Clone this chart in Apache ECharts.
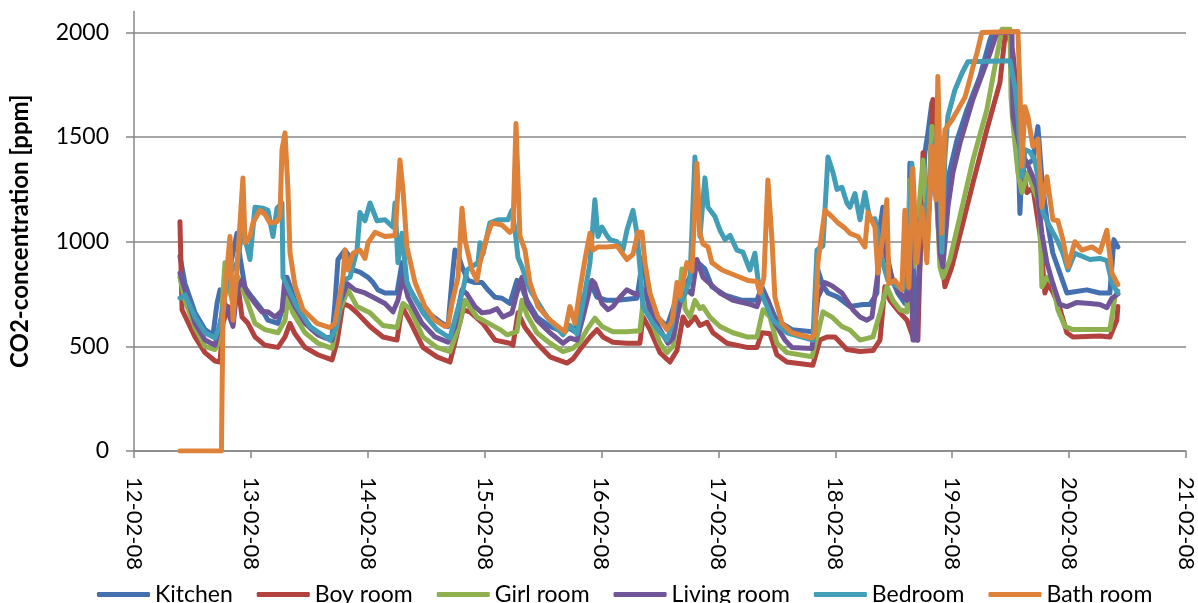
<!DOCTYPE html>
<html>
<head>
<meta charset="utf-8">
<title>CO2-concentration</title>
<script src="https://cdn.jsdelivr.net/npm/echarts@6/dist/echarts.min.js"></script>
<style>
  html, body { margin: 0; padding: 0; background: #ffffff; }
  #chart { width: 1198px; height: 603px; }
</style>
</head>
<body>
<div id="chart"></div>
<script>
// Measured CO2 concentration per room, [day of February 2008, ppm]
const kitchen = [
  [12.393,930],[12.436,800],[12.522,660],[12.607,580],[12.676,555],[12.710,705],[12.736,770],[12.761,740],[12.804,830],[12.881,1040],[12.907,925],[12.950,780],
  [13.009,735],[13.095,675],[13.146,625],[13.232,610],[13.275,690],[13.309,830],[13.352,760],[13.403,675],[13.523,580],[13.634,540],[13.694,545],[13.719,705],[13.745,915],[13.805,960],[13.848,925],[13.873,865],[13.933,855],
  [14.002,830],[14.045,805],[14.087,770],[14.147,755],[14.250,755],[14.293,900],[14.318,830],[14.361,770],[14.429,705],[14.515,660],[14.635,610],[14.686,595],[14.720,815],[14.746,960],[14.772,940],[14.806,880],[14.857,815],[14.917,805],[14.977,805],
  [15.028,770],[15.088,735],[15.148,730],[15.216,705],[15.276,815],[15.319,780],[15.362,720],[15.447,640],[15.559,595],[15.670,570],[15.713,590],[15.772,570],[15.815,705],[15.875,770],[15.901,805],[15.961,735],
  [16.046,720],[16.132,720],[16.217,725],[16.303,730],[16.354,925],[16.388,780],[16.440,660],[16.560,595],[16.611,680],[16.671,770],[16.730,800],[16.782,865],[16.824,900],[16.884,870],[16.944,785],
  [17.056,745],[17.201,720],[17.329,720],[17.372,785],[17.423,720],[17.483,640],[17.543,610],[17.629,580],[17.800,570],[17.826,570],[17.851,865],[17.894,790],[17.937,755],
  [18.022,735],[18.125,690],[18.236,700],[18.296,700],[18.356,755],[18.382,1070],[18.407,1165],[18.441,945],[18.484,820],[18.535,755],[18.595,705],[18.621,800],[18.638,1375],[18.664,900],[18.698,625],[18.724,900],[18.766,1425],[18.792,1520],[18.826,1665],[18.852,1400],[18.877,1100],[18.903,900],[18.937,1150],[18.963,1300],
  [19.040,1485],[19.126,1630],[19.237,1790],[19.323,1965],[19.348,2000],[19.494,2000],[19.520,1750],[19.562,1500],[19.579,1135],[19.596,1355],[19.690,1390],[19.733,1550],[19.767,1300],[19.810,1105],[19.861,945],[19.921,850],[19.981,755],
  [20.032,760],[20.152,770],[20.263,755],[20.349,755],[20.383,1010],[20.417,975]
];
const boyRoom = [
  [12.393,1095],[12.411,675],[12.522,545],[12.607,470],[12.693,430],[12.736,425],[12.761,610],[12.804,690],[12.838,640],[12.881,830],[12.924,640],[12.975,610],
  [13.035,545],[13.121,505],[13.232,495],[13.292,545],[13.334,610],[13.377,560],[13.463,495],[13.574,460],[13.694,435],[13.737,520],[13.788,705],[13.848,690],[13.908,660],
  [14.019,595],[14.130,545],[14.250,530],[14.293,690],[14.361,620],[14.472,495],[14.592,450],[14.703,425],[14.746,520],[14.814,675],[14.874,665],[14.985,610],
  [15.088,530],[15.216,515],[15.242,505],[15.285,660],[15.345,590],[15.447,515],[15.559,450],[15.704,420],[15.755,440],[15.815,485],[15.901,545],[15.961,580],
  [16.012,545],[16.097,520],[16.217,515],[16.328,515],[16.354,640],[16.414,580],[16.500,470],[16.585,425],[16.645,480],[16.697,640],[16.739,600],[16.799,640],[16.842,600],[16.902,615],[16.953,565],
  [17.073,515],[17.244,495],[17.329,495],[17.372,565],[17.441,560],[17.500,460],[17.586,425],[17.808,410],[17.868,530],[17.928,545],[17.997,545],
  [18.099,485],[18.211,475],[18.322,480],[18.382,530],[18.424,785],[18.467,720],[18.553,660],[18.613,625],[18.664,545],[18.706,530],[18.750,1425],[18.784,975],[18.835,1680],[18.869,1400],[18.895,1000],[18.937,785],[18.997,880],
  [19.083,1070],[19.177,1280],[19.296,1535],[19.408,1760],[19.451,1980],[19.477,2000],[19.520,1900],[19.553,1700],[19.596,1390],[19.639,1235],[19.690,1260],[19.750,1040],[19.793,755],[19.818,800],[19.861,760],[19.921,680],[19.981,565],
  [20.032,545],[20.263,550],[20.349,545],[20.408,625],[20.417,690]
];
const girlRoom = [
  [12.393,830],[12.436,720],[12.522,590],[12.607,500],[12.693,485],[12.736,530],[12.778,900],[12.804,800],[12.847,705],[12.890,830],[12.932,770],[12.975,705],
  [13.035,610],[13.121,580],[13.232,565],[13.292,625],[13.317,735],[13.360,660],[13.463,565],[13.574,515],[13.694,490],[13.762,675],[13.831,770],[13.908,690],
  [14.019,660],[14.130,600],[14.250,590],[14.301,705],[14.361,680],[14.472,545],[14.592,495],[14.703,475],[14.789,612],[14.831,720],[14.934,640],
  [15.028,612],[15.131,580],[15.191,555],[15.276,570],[15.319,720],[15.362,650],[15.447,565],[15.559,515],[15.670,475],[15.755,490],[15.815,520],[15.875,580],[15.943,635],
  [16.003,595],[16.097,570],[16.217,570],[16.328,575],[16.354,705],[16.414,640],[16.500,515],[16.560,470],[16.611,500],[16.654,675],[16.688,870],[16.714,680],[16.756,640],[16.799,720],[16.842,680],[16.867,690],[16.927,640],
  [17.013,595],[17.124,565],[17.244,545],[17.329,545],[17.381,675],[17.441,640],[17.500,515],[17.586,470],[17.800,450],[17.851,565],[17.894,665],[17.971,640],
  [18.056,595],[18.125,578],[18.211,530],[18.322,545],[18.382,660],[18.441,785],[18.492,720],[18.553,675],[18.613,665],[18.638,1295],[18.664,880],[18.706,1100],[18.750,1390],[18.792,1010],[18.826,1550],[18.869,1200],[18.895,880],[18.920,830],[18.980,915],
  [19.066,1120],[19.177,1390],[19.296,1630],[19.408,1965],[19.425,2015],[19.494,2015],[19.503,1690],[19.520,1565],[19.562,1330],[19.596,1235],[19.648,1330],[19.690,1260],[19.733,1200],[19.750,1120],[19.767,785],[19.810,830],[19.861,800],[19.904,675],[19.964,595],
  [20.032,580],[20.203,580],[20.349,580],[20.392,735],[20.417,765]
];
const livingRoom = [
  [12.393,850],[12.436,770],[12.522,610],[12.607,530],[12.693,505],[12.736,610],[12.778,705],[12.847,595],[12.881,770],[12.924,815],[12.967,760],
  [13.035,705],[13.095,665],[13.146,665],[13.206,640],[13.266,670],[13.292,830],[13.317,760],[13.377,690],[13.463,610],[13.574,555],[13.694,530],[13.762,705],[13.822,800],[13.891,770],[13.976,755],
  [14.062,730],[14.147,705],[14.216,665],[14.258,720],[14.301,830],[14.344,735],[14.464,610],[14.575,545],[14.686,520],[14.746,595],[14.806,770],[14.849,750],[14.917,690],[14.977,660],
  [15.045,665],[15.105,680],[15.156,640],[15.233,660],[15.276,755],[15.319,830],[15.362,705],[15.447,625],[15.559,565],[15.670,515],[15.730,540],[15.790,530],[15.841,640],[15.918,815],[15.943,800],
  [16.003,705],[16.055,675],[16.097,690],[16.157,735],[16.217,770],[16.269,755],[16.328,745],[16.371,770],[16.414,675],[16.500,580],[16.568,515],[16.611,540],[16.671,705],[16.730,770],[16.773,750],[16.816,915],[16.867,830],[16.927,800],
  [17.013,755],[17.124,720],[17.244,705],[17.329,690],[17.372,760],[17.423,720],[17.483,610],[17.569,530],[17.629,495],[17.800,490],[17.851,735],[17.911,805],[17.971,790],
  [18.056,755],[18.150,675],[18.211,640],[18.270,625],[18.313,640],[18.364,850],[18.398,1040],[18.441,915],[18.492,815],[18.553,755],[18.613,720],[18.638,1070],[18.664,530],[18.698,530],[18.724,1040],[18.750,1165],[18.792,1100],[18.826,1330],[18.852,1425],[18.895,945],[18.920,880],[18.963,1165],
  [19.006,1330],[19.066,1470],[19.177,1680],[19.323,1900],[19.383,2000],[19.511,2000],[19.520,1600],[19.579,1450],[19.639,1375],[19.690,1310],[19.724,1260],[19.767,1040],[19.810,900],[19.861,800],[19.921,700],[19.981,690],
  [20.067,710],[20.178,705],[20.263,700],[20.323,685],[20.366,730],[20.417,750]
];
const bedroom = [
  [12.393,731],[12.436,746],[12.522,640],[12.607,565],[12.693,540],[12.736,600],[12.804,830],[12.881,900],[12.924,1040],[12.967,975],[12.992,915],
  [13.035,1165],[13.104,1160],[13.146,1150],[13.189,1025],[13.223,1160],[13.266,1185],[13.275,830],[13.334,760],[13.394,690],[13.506,595],[13.677,530],[13.737,600],[13.788,815],[13.848,830],[13.908,960],[13.933,1140],[13.976,1100],
  [14.019,1185],[14.079,1100],[14.147,1105],[14.216,1070],[14.233,1185],[14.258,900],[14.293,1040],[14.335,805],[14.361,770],[14.472,660],[14.592,580],[14.703,540],[14.814,770],[14.849,865],[14.943,900],[14.960,995],[14.985,940],
  [15.045,1090],[15.114,1105],[15.199,1105],[15.233,1150],[15.259,1060],[15.285,925],[15.319,880],[15.388,770],[15.533,640],[15.670,555],[15.730,600],[15.790,560],[15.841,705],[15.901,900],[15.943,1200],[15.969,1025],
  [16.003,1070],[16.046,1030],[16.072,1010],[16.132,1000],[16.183,960],[16.217,1055],[16.269,1150],[16.303,1040],[16.328,880],[16.354,690],[16.440,610],[16.560,530],[16.602,600],[16.645,755],[16.688,720],[16.756,815],[16.799,1405],[16.842,1025],[16.884,1305],[16.910,1165],[16.970,1120],
  [17.013,1055],[17.056,1010],[17.099,1030],[17.158,960],[17.209,950],[17.269,865],[17.312,945],[17.338,820],[17.381,735],[17.466,625],[17.586,565],[17.808,530],[17.843,960],[17.894,980],[17.937,1405],[17.980,1330],
  [18.014,1250],[18.056,1260],[18.099,1185],[18.125,1165],[18.168,1230],[18.211,1105],[18.253,1235],[18.296,1105],[18.339,1110],[18.364,1040],[18.398,915],[18.450,815],[18.535,785],[18.578,770],[18.621,850],[18.655,1375],[18.681,950],[18.706,1105],[18.766,1100],[18.809,1300],[18.835,1425],[18.877,1535],[18.912,950],[18.937,1400],[18.963,1600],
  [19.023,1725],[19.083,1805],[19.134,1860],[19.494,1865],[19.536,1740],[19.562,1600],[19.596,1310],[19.622,1440],[19.665,1430],[19.707,1390],[19.733,1310],[19.776,1140],[19.836,1070],[19.896,1010],[19.947,945],[19.990,865],
  [20.049,945],[20.178,915],[20.263,920],[20.323,910],[20.366,805],[20.417,755]
];
const bathRoom = [
  [12.393,0],[12.748,0],[12.761,650],[12.821,1025],[12.847,625],[12.881,865],[12.932,1305],[12.950,995],[12.992,1025],
  [13.018,1090],[13.078,1150],[13.121,1130],[13.163,1090],[13.223,1095],[13.249,1120],[13.266,1440],[13.292,1520],[13.317,1250],[13.334,950],[13.377,790],[13.446,675],[13.565,610],[13.677,590],[13.719,610],[13.788,830],[13.805,960],[13.831,865],[13.873,945],[13.933,960],[13.976,920],
  [14.002,995],[14.062,1045],[14.147,1025],[14.233,1030],[14.275,1390],[14.301,1250],[14.335,975],[14.404,805],[14.489,690],[14.575,625],[14.660,595],[14.686,600],[14.720,705],[14.772,830],[14.806,1160],[14.831,1010],[14.891,865],[14.934,815],[14.960,900],
  [15.020,1025],[15.062,1090],[15.148,1080],[15.216,1045],[15.242,1060],[15.268,1565],[15.302,1025],[15.345,960],[15.387,805],[15.456,690],[15.559,625],[15.661,580],[15.687,570],[15.729,690],[15.772,610],[15.815,770],[15.858,915],[15.901,1040],[15.926,960],[15.969,975],
  [16.046,975],[16.132,980],[16.217,915],[16.269,940],[16.311,1045],[16.346,1045],[16.371,900],[16.414,755],[16.482,640],[16.559,580],[16.602,620],[16.645,805],[16.671,740],[16.730,900],[16.773,860],[16.816,1375],[16.842,1040],[16.867,990],[16.910,975],[16.944,900],
  [17.030,865],[17.141,840],[17.252,815],[17.329,810],[17.355,755],[17.389,830],[17.423,1295],[17.458,1010],[17.483,735],[17.543,610],[17.628,565],[17.800,540],[17.825,560],[17.851,900],[17.911,1150],[17.971,1120],
  [18.022,1090],[18.082,1065],[18.125,1040],[18.193,1025],[18.253,975],[18.279,1140],[18.339,1070],[18.364,850],[18.407,1025],[18.441,1200],[18.458,800],[18.510,815],[18.569,770],[18.595,1150],[18.629,780],[18.663,1350],[18.698,900],[18.741,1165],[18.783,900],[18.826,1455],[18.860,1200],[18.877,1790],[18.911,1040],[18.937,1535],[18.997,1580],
  [19.048,1630],[19.109,1690],[19.151,1775],[19.177,1835],[19.211,1900],[19.254,2000],[19.562,2005],[19.579,1740],[19.596,1360],[19.622,1645],[19.647,1600],[19.690,1455],[19.733,1490],[19.767,1165],[19.810,1310],[19.861,1105],[19.904,1100],[19.947,1010],[19.990,880],
  [20.049,1000],[20.109,960],[20.195,975],[20.263,950],[20.323,1055],[20.366,850],[20.417,795]
];

const seriesNames = ['Kitchen', 'Boy room', 'Girl room', 'Living room', 'Bedroom', 'Bath room'];
const seriesValues = [kitchen, boyRoom, girlRoom, livingRoom, bedroom, bathRoom];
const seriesColors = ['#4470b0', '#b2423e', '#8fb04e', '#705698', '#429db6', '#de8139'];

// Axis ticks: one per day on x, every 500 ppm on y
const dayTicks = [12, 13, 14, 15, 16, 17, 18, 19, 20, 21];
const ppmTicks = [0, 500, 1000, 1500, 2000];

const FONT = 'Lato, "Liberation Sans", sans-serif';
const AXIS_GREY = '#878787';

const chart = echarts.init(document.getElementById('chart'), null, { renderer: 'canvas' });

const lineSeries = seriesNames.map((name, i) => ({
  name: name,
  type: 'line',
  data: seriesValues[i],
  showSymbol: false,
  symbol: 'none',
  color: seriesColors[i],
  lineStyle: { width: 5, color: seriesColors[i], join: 'round', cap: 'round' },
  z: 3,
  silent: true
}));

chart.setOption({
  animation: false,
  backgroundColor: '#ffffff',
  textStyle: { fontFamily: FONT },
  grid: { left: 134, right: 12, top: 11.5, bottom: 152, containLabel: false },
  xAxis: {
    type: 'value',
    min: dayTicks[0],
    max: dayTicks[dayTicks.length - 1],
    interval: 1,
    axisLine: { show: true, lineStyle: { color: AXIS_GREY, width: 1.5 } },
    axisTick: { show: true, length: 7, inside: false, lineStyle: { color: AXIS_GREY, width: 1.5 } },
    splitLine: { show: false },
    axisLabel: {
      rotate: -90,
      margin: 26,
      color: '#000000',
      fontFamily: FONT,
      fontSize: 22,
      formatter: v => String(v).padStart(2, '0') + '-02-08'
    }
  },
  yAxis: {
    type: 'value',
    min: 0,
    max: 2100,
    interval: 500,
    name: 'CO2-concentration [ppm]',
    nameLocation: 'middle',
    nameGap: 102,
    nameTextStyle: { color: '#000000', fontFamily: FONT, fontSize: 24, fontWeight: 'bold' },
    axisLine: { show: true, lineStyle: { color: AXIS_GREY, width: 1.5 } },
    axisTick: { show: true, length: 8, inside: false, customValues: ppmTicks, lineStyle: { color: AXIS_GREY, width: 1.5 } },
    splitLine: { show: true, lineStyle: { color: AXIS_GREY, width: 1.5 } },
    axisLabel: {
      customValues: ppmTicks,
      margin: 25,
      color: '#000000',
      fontFamily: FONT,
      fontSize: 23,
      formatter: v => String(v)
    }
  },
  legend: {
    data: seriesNames,
    left: 92,
    top: 578,
    icon: 'roundRect',
    itemWidth: 53,
    itemHeight: 5,
    itemGap: 24,
    textStyle: { color: '#000000', fontFamily: FONT, fontSize: 23 },
    selectedMode: false
  },
  series: lineSeries
});
</script>
</body>
</html>
